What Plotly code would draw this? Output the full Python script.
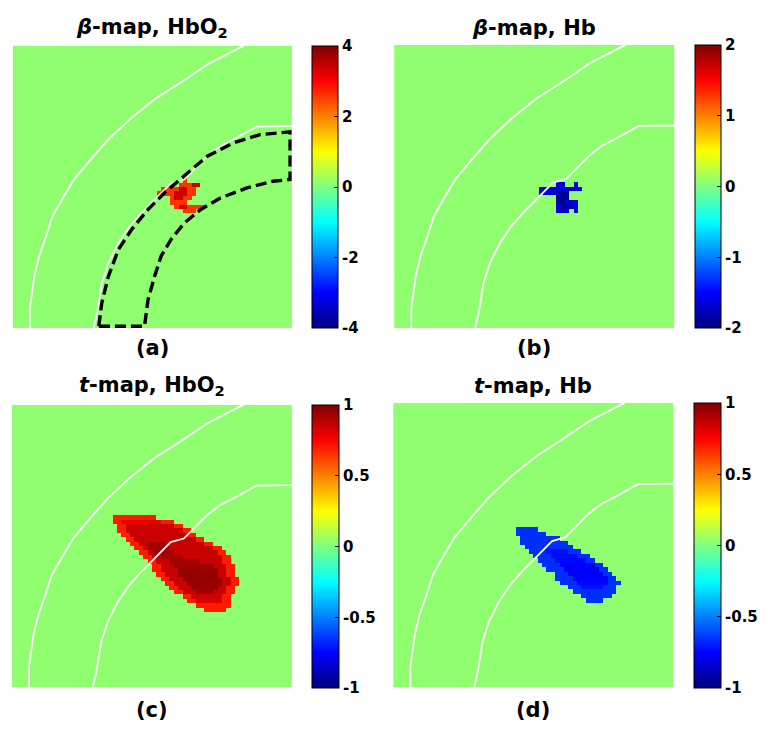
import numpy as np
import plotly.graph_objects as go

N = 64  # image grid (cells)

# ---- tissue boundary curves (col, row in image cells), shared by all panels
outer_x = [3.9, 3.9, 4.9, 6.0, 7.6, 9.1, 11.7, 14.0, 17.8, 21.9, 27.2, 32.5, 38.5, 44.6, 50.6, 52.9]
outer_y = [64, 59.5, 52.3, 47.7, 43.2, 38.6, 34.1, 30.3, 25.8, 21.2, 16.3, 12.1, 8.3, 4.2, 1.1, 0]
inner_x = [18.5, 19.3, 20.4, 21.9, 24.2, 26.8, 29.5, 32.5, 36.3, 39.3, 41.6, 44.6, 47.6, 50.6, 55.9, 64]
inner_y = [64, 60.6, 53.8, 49.2, 44.7, 40.9, 37.9, 34.8, 31.1, 30.3, 28.0, 25.0, 22.7, 21.2, 18.3, 18.2]

# ---- dashed ROI outline in panel (a)
roi_x = [19.7, 20.4, 21.9, 24.2, 27.2, 31.0, 34.8, 39.3, 44.6, 50.6, 56.7, 63.6,
         63.6, 59.7, 53.7, 47.6, 43.1, 39.3, 36.3, 34.0, 32.5, 31.0, 30.2, 19.7]
roi_y = [63.6, 58.3, 52.3, 46.2, 41.7, 37.1, 33.3, 29.5, 25.0, 22.0, 20.1, 19.5,
         30.3, 30.7, 32.2, 34.5, 37.1, 40.2, 43.9, 47.7, 52.3, 57.6, 63.6, 63.6]

# ---- activation blobs: (row, first col, last col, value), later entries paint over earlier
blob_a = [(29, 39, 39, 2.6), (30, 39, 39, 2.6), (31, 38, 42, 2.6), (32, 34, 41, 2.6),
          (33, 33, 41, 2.6), (34, 36, 40, 2.6), (35, 36, 39, 2.6), (36, 37, 43, 2.6),
          (37, 39, 41, 2.6),
          (31, 41, 42, 3.4), (32, 38, 39, 3.4), (33, 37, 39, 3.4), (34, 37, 38, 3.4),
          (36, 38, 39, 3.3)]

blob_b = [(31, 37, 38, -1.65), (31, 41, 41, -1.65), (32, 33, 42, -1.65), (33, 33, 39, -1.65),
          (34, 37, 39, -1.65), (35, 37, 41, -1.65), (36, 37, 41, -1.65), (37, 37, 39, -1.65),
          (37, 41, 41, -1.65),
          (33, 37, 39, -1.9), (34, 37, 39, -1.9), (35, 37, 38, -1.9), (36, 38, 39, -1.9)]

blob_c = [(25, 23, 32, 0.70), (26, 23, 36, 0.70), (27, 24, 38, 0.70), (28, 24, 40, 0.70),
          (29, 25, 41, 0.70), (30, 26, 43, 0.70), (31, 27, 45, 0.70), (32, 28, 47, 0.70),
          (33, 29, 48, 0.70), (34, 30, 49, 0.70), (35, 31, 49, 0.70), (36, 32, 50, 0.70),
          (37, 32, 50, 0.70), (38, 33, 50, 0.70), (39, 34, 51, 0.70), (40, 35, 51, 0.70),
          (41, 36, 50, 0.70), (42, 37, 50, 0.70), (43, 39, 49, 0.70), (44, 40, 49, 0.70),
          (45, 42, 49, 0.70), (46, 44, 48, 0.70),
          (26, 25, 33, 0.80), (27, 26, 36, 0.84), (28, 26, 38, 0.85), (29, 27, 39, 0.86),
          (30, 28, 41, 0.86), (31, 29, 43, 0.86), (32, 30, 45, 0.86), (33, 31, 46, 0.86),
          (34, 32, 47, 0.86), (35, 33, 47, 0.86), (36, 34, 48, 0.86), (37, 34, 48, 0.86),
          (38, 35, 48, 0.86), (39, 36, 49, 0.86), (40, 37, 49, 0.86), (41, 38, 48, 0.86),
          (42, 39, 48, 0.86), (43, 41, 47, 0.84), (44, 42, 47, 0.82),
          (31, 31, 34, 0.93), (32, 31, 35, 0.93), (33, 32, 36, 0.93), (34, 34, 38, 0.92),
          (35, 36, 42, 0.93), (36, 37, 45, 0.94), (37, 38, 46, 0.95), (38, 38, 46, 0.96),
          (39, 39, 47, 0.96), (40, 40, 47, 0.95), (41, 41, 46, 0.95), (42, 42, 45, 0.94)]

blob_d = [(28, 28, 32, -0.66), (29, 28, 34, -0.66), (30, 29, 37, -0.66), (31, 29, 39, -0.66),
          (32, 30, 40, -0.66), (33, 31, 42, -0.66), (34, 32, 44, -0.66), (35, 33, 45, -0.66),
          (36, 34, 47, -0.66), (37, 35, 48, -0.66), (38, 37, 49, -0.66), (39, 37, 50, -0.66),
          (40, 38, 51, -0.66), (41, 40, 50, -0.66), (42, 41, 50, -0.66), (43, 43, 49, -0.66),
          (44, 44, 47, -0.66),
          (33, 35, 39, -0.72), (34, 36, 41, -0.73), (35, 37, 43, -0.74), (36, 38, 45, -0.75),
          (37, 39, 46, -0.76), (38, 40, 47, -0.76), (39, 41, 48, -0.75), (40, 42, 48, -0.74),
          (41, 43, 47, -0.72)]

# ---- panel texts and colour ranges
titles = ["<b><i>β</i>-map, HbO<sub>2</sub></b>", "<b><i>β</i>-map, Hb</b>",
          "<b><i>t</i>-map, HbO<sub>2</sub></b>", "<b><i>t</i>-map, Hb</b>"]
labels = ["<b>(a)</b>", "<b>(b)</b>", "<b>(c)</b>", "<b>(d)</b>"]
cranges = [(-4, 4), (-2, 2), (-1, 1), (-1, 1)]
cticks = [[-4, -2, 0, 2, 4], [-2, -1, 0, 1, 2], [-1, -0.5, 0, 0.5, 1], [-1, -0.5, 0, 0.5, 1]]
blobs = [blob_a, blob_b, blob_c, blob_d]

# ---- layout geometry (pixels of the 771x729 page; page body has an 8px margin)
OFF = 8
W, H = 771 - 2 * OFF, 729 - 2 * OFF
img_boxes = [(13, 296, 46, 328), (400, 684, 45, 328), (12, 296, 405, 687), (399, 683, 403, 687)]
cbar_boxes = [(317, 345, 46, 328), (705, 733, 45, 328), (316, 345, 405, 688), (704, 733, 403, 688)]
title_y = [28, 28, 386, 386]
label_y = [348, 348, 710, 710]


def px(v):
    return (v - OFF) / W


def py(v):
    return 1 - (v - OFF) / H


JET = [[0.0, "rgb(0,0,128)"], [0.125, "rgb(0,0,255)"], [0.375, "rgb(0,255,255)"],
       [0.625, "rgb(255,255,0)"], [0.875, "rgb(255,0,0)"], [1.0, "rgb(128,0,0)"]]
BG = "#8fff70"
FONT = "DejaVu Sans, Liberation Sans, Arial"

fig = go.Figure()
layout = dict(width=W, height=H, margin=dict(l=0, r=0, t=0, b=0),
              paper_bgcolor="white", plot_bgcolor=BG, showlegend=False)
annotations = []
shapes = []

for i in range(4):
    k = "" if i == 0 else str(i + 1)
    z = np.full((N, N), np.nan)
    for r, c0, c1, v in blobs[i]:
        z[r, c0:c1 + 1] = v
    x0, x1, y0, y1 = img_boxes[i]
    cx0, cx1, cy0, cy1 = cbar_boxes[i]
    fig.add_trace(go.Heatmap(z=z, x=np.arange(N) + 0.5, y=np.arange(N) + 0.5,
                             coloraxis="coloraxis" + k, xaxis="x" + k, yaxis="y" + k,
                             hoverinfo="skip"))
    for xs, ys in ((outer_x, outer_y), (inner_x, inner_y)):
        fig.add_trace(go.Scatter(x=xs, y=ys, mode="lines", xaxis="x" + k, yaxis="y" + k,
                                 line=dict(color="white", width=1.8), hoverinfo="skip"))
    if i == 0:
        fig.add_trace(go.Scatter(x=roi_x, y=roi_y, mode="lines", xaxis="x", yaxis="y",
                                 line=dict(color="black", width=3.4, dash="11px,5px"),
                                 hoverinfo="skip"))
    layout["xaxis" + k] = dict(domain=[px(x0), px(x1)], range=[0, N], visible=False,
                               anchor="y" + k, fixedrange=True)
    layout["yaxis" + k] = dict(domain=[py(y1), py(y0)], range=[N, 0], visible=False,
                               anchor="x" + k, fixedrange=True)
    lo, hi = cranges[i]
    layout["coloraxis" + k] = dict(
        cmin=lo, cmax=hi, colorscale=JET,
        colorbar=dict(x=px(cx0), xanchor="left", y=py((cy0 + cy1) / 2), yanchor="middle",
                      len=cy1 - cy0, lenmode="pixels", thickness=cx1 - cx0 - 2,
                      thicknessmode="pixels", outlinecolor="black", outlinewidth=1,
                      tickvals=cticks[i], ticktext=[str(t) for t in cticks[i]],
                      ticks="inside", ticklen=4, tickcolor="black", xpad=0, ypad=0,
                      tickfont=dict(family=FONT, size=15, color="black", weight="bold")))
    # left-side colourbar ticks (MATLAB style, ticks on both sides)
    for t in cticks[i][1:-1]:
        yy = cy1 - (t - lo) / (hi - lo) * (cy1 - cy0)
        shapes.append(dict(type="line", xref="paper", yref="paper",
                           x0=px(cx0 + 1), x1=px(cx0 + 5), y0=py(yy), y1=py(yy),
                           line=dict(color="black", width=1)))
    xc = px((x0 + x1) / 2)
    annotations.append(dict(text=titles[i], x=xc, y=py(title_y[i]), xref="paper",
                            yref="paper", showarrow=False, xanchor="center", yanchor="middle",
                            font=dict(family=FONT, size=21, color="black")))
    annotations.append(dict(text=labels[i], x=xc, y=py(label_y[i]), xref="paper",
                            yref="paper", showarrow=False, xanchor="center", yanchor="middle",
                            font=dict(family=FONT, size=21, color="black")))

layout["annotations"] = annotations
layout["shapes"] = shapes
fig.update_layout(**layout)
fig.write_html("out.html")
